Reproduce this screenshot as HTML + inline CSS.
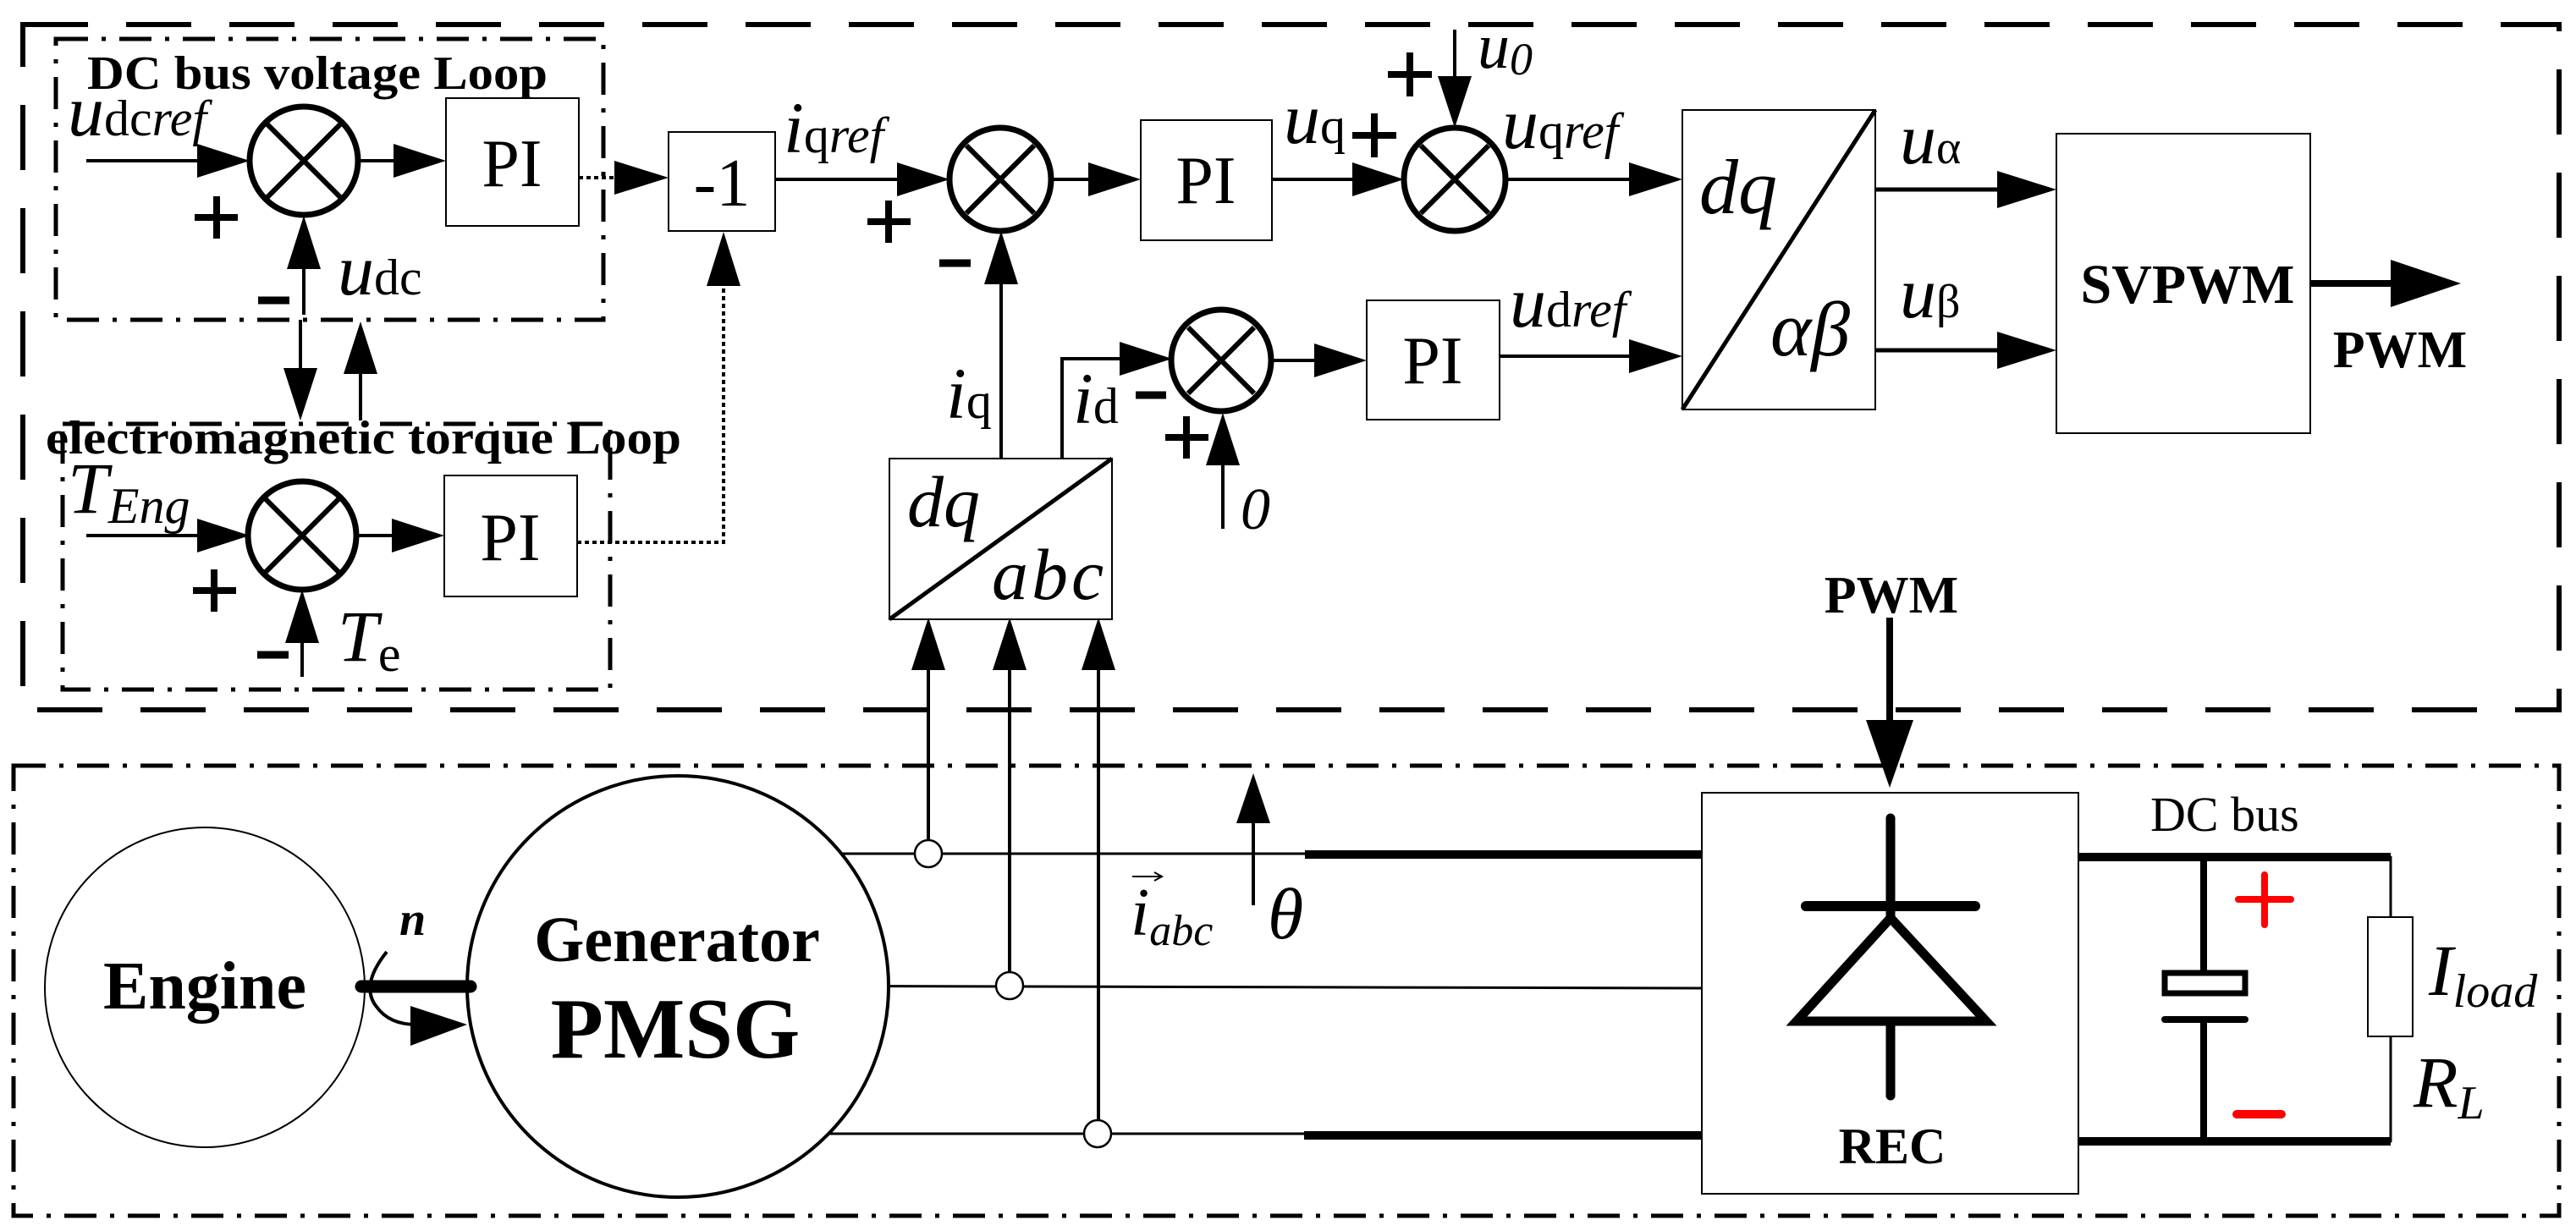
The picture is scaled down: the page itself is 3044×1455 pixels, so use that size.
<!DOCTYPE html>
<html><head><meta charset="utf-8"><style>html,body{margin:0;padding:0;background:#fff}svg{display:block}</style></head><body>
<svg width="3044" height="1455" viewBox="0 0 3044 1455" xmlns="http://www.w3.org/2000/svg" font-family="'Liberation Serif', serif">
<rect width="3044" height="1455" fill="#fff"/>
<g fill="none" stroke="#000">
<rect x="27" y="29" width="2997" height="810" stroke-width="6" stroke-dasharray="77 45"/>
<rect x="66" y="46" width="647" height="332" stroke-width="5" stroke-dasharray="38 16 5 16"/>
<rect x="74" y="501" width="647" height="314" stroke-width="5" stroke-dasharray="38 16 5 16"/>
<rect x="16" y="905" width="3008" height="532" stroke-width="5" stroke-dasharray="38 16 5 16"/>
</g>
<g stroke="#000" fill="none" stroke-width="4">
<line x1="102" y1="190" x2="240" y2="190"/>
<ellipse cx="359" cy="190" rx="64" ry="64" stroke-width="7"/>
<path d="M316 147L402 233M402 147L316 233" stroke-width="6"/>
<line x1="424" y1="190" x2="470" y2="190"/>
<rect x="527" y="116" width="157" height="151" stroke-width="2"/>
<line x1="359" y1="372" x2="359" y2="300"/>
<path d="M230 257H281M256 232V282" stroke-width="8"/>
<path d="M305 355H342" stroke-width="9"/>
<line x1="684" y1="210" x2="730" y2="210" stroke-dasharray="5 4"/>
<rect x="790" y="156" width="126" height="117" stroke-width="2"/>
<line x1="355" y1="378" x2="355" y2="440"/>
<line x1="426" y1="497" x2="426" y2="435"/>
<line x1="102" y1="633" x2="240" y2="633"/>
<ellipse cx="357" cy="633" rx="64" ry="64" stroke-width="7"/>
<path d="M314 590L400 676M400 590L314 676" stroke-width="6"/>
<line x1="421" y1="633" x2="470" y2="633"/>
<rect x="525" y="562" width="157" height="143" stroke-width="2"/>
<line x1="357" y1="800" x2="357" y2="750"/>
<path d="M228 698H279M253 673V723" stroke-width="8"/>
<path d="M304 774H341" stroke-width="9"/>
<path d="M682 641H855V330" stroke-dasharray="5 4"/>
<line x1="916" y1="212" x2="1070" y2="212"/>
<ellipse cx="1182" cy="212" rx="60" ry="61" stroke-width="7"/>
<path d="M1142 172L1222 252M1222 172L1142 252" stroke-width="6"/>
<path d="M1025 262H1076M1050 237V287" stroke-width="8"/>
<path d="M1110 311H1147" stroke-width="9"/>
<line x1="1242" y1="212" x2="1290" y2="212"/>
<rect x="1348" y="142" width="155" height="142" stroke-width="2"/>
<line x1="1503" y1="212" x2="1610" y2="212"/>
<path d="M1598 160H1650M1624 134V186" stroke-width="8"/>
<ellipse cx="1719" cy="212" rx="60" ry="61" stroke-width="7"/>
<path d="M1679 172L1759 252M1759 172L1679 252" stroke-width="6"/>
<line x1="1719" y1="35" x2="1719" y2="100"/>
<path d="M1640 88H1692M1666 62V114" stroke-width="8"/>
<line x1="1779" y1="212" x2="1930" y2="212"/>
<rect x="1988" y="130" width="228" height="354" stroke-width="2"/>
<line x1="1988" y1="484" x2="2216" y2="130" stroke-width="5"/>
<line x1="1183" y1="542" x2="1183" y2="330"/>
<path d="M1255 542V424H1330"/>
<ellipse cx="1443" cy="426" rx="59" ry="60" stroke-width="7"/>
<path d="M1404 387L1482 465M1482 387L1404 465" stroke-width="6"/>
<path d="M1342 467H1378" stroke-width="9"/>
<path d="M1377 517H1428M1402 492V542" stroke-width="8"/>
<line x1="1445" y1="625" x2="1445" y2="540"/>
<line x1="1504" y1="426" x2="1560" y2="426"/>
<rect x="1615" y="355" width="157" height="141" stroke-width="2"/>
<line x1="1772" y1="421" x2="1930" y2="421"/>
<rect x="1051" y="542" width="263" height="190" stroke-width="2"/>
<line x1="1051" y1="732" x2="1314" y2="542" stroke-width="5"/>
<line x1="1097" y1="790" x2="1097" y2="993"/>
<line x1="1193" y1="790" x2="1193" y2="1149"/>
<line x1="1298" y1="790" x2="1298" y2="1324"/>
<line x1="2216" y1="224" x2="2370" y2="224" stroke-width="5"/>
<line x1="2216" y1="414" x2="2370" y2="414" stroke-width="5"/>
<rect x="2430" y="158" width="300" height="354" stroke-width="2"/>
<line x1="2730" y1="335" x2="2830" y2="335" stroke-width="8"/>
<line x1="2233" y1="730" x2="2233" y2="860" stroke-width="8"/>
<line x1="801" y1="1009" x2="1542" y2="1009" stroke-width="3"/>
<line x1="1542" y1="1010" x2="2011" y2="1010" stroke-width="10"/>
<line x1="801" y1="1165" x2="2011" y2="1168" stroke-width="3"/>
<line x1="801" y1="1340" x2="1541" y2="1340" stroke-width="3"/>
<line x1="1541" y1="1342" x2="2011" y2="1342" stroke-width="10"/>
<line x1="1481" y1="1070" x2="1481" y2="960"/>
</g>
<g fill="#000">
<polygon points="233,170 295,190 233,210"/>
<polygon points="465,170 527,190 465,210"/>
<polygon points="339,318 359,255 379,318"/>
<polygon points="726,190 790,210 726,230"/>
<polygon points="335,435 355,497 375,435"/>
<polygon points="406,442 426,380 446,442"/>
<polygon points="233,613 295,633 233,653"/>
<polygon points="463,613 525,633 463,653"/>
<polygon points="337,760 357,697 377,760"/>
<polygon points="835,338 855,274 875,338"/>
<polygon points="1060,192 1122,212 1060,232"/>
<polygon points="1286,192 1348,212 1286,232"/>
<polygon points="1598,192 1659,212 1598,232"/>
<polygon points="1699,90 1719,151 1739,90"/>
<polygon points="1925,192 1988,212 1925,232"/>
<polygon points="1163,336 1183,273 1203,336"/>
<polygon points="1323,404 1385,424 1323,444"/>
<polygon points="1425,550 1445,488 1465,550"/>
<polygon points="1553,406 1615,426 1553,446"/>
<polygon points="1925,401 1988,421 1925,441"/>
<polygon points="1077,792 1097,730 1117,792"/>
<polygon points="1173,792 1193,730 1213,792"/>
<polygon points="1278,792 1298,730 1318,792"/>
<polygon points="2360,202 2430,224 2360,246"/>
<polygon points="2360,392 2430,414 2360,436"/>
<polygon points="2825,307 2908,335 2825,363"/>
<polygon points="2205,851 2233,931 2261,851"/>
<polygon points="1461,973 1481,914 1501,973"/>
<polygon points="485,1189 552,1211 485,1236"/>
</g>
<circle cx="242" cy="1167" r="189" fill="#fff" stroke="#000" stroke-width="2"/>
<circle cx="801" cy="1166" r="249" fill="#fff" stroke="#000" stroke-width="4"/>
<line x1="427" y1="1166" x2="556" y2="1166" stroke="#000" stroke-width="15" stroke-linecap="round"/>
<path d="M457 1125 Q425 1165 445 1190 Q460 1211 492 1211" fill="none" stroke="#000" stroke-width="4"/>
<g fill="#fff" stroke="#000" stroke-width="2.5">
<circle cx="1097" cy="1009" r="16"/><circle cx="1193" cy="1165" r="16"/><circle cx="1297" cy="1340" r="16"/>
</g>
<rect x="2011" y="937" width="445" height="474" fill="none" stroke="#000" stroke-width="2"/>
<g stroke="#000" stroke-linecap="round" fill="none">
<line x1="2234" y1="967" x2="2234" y2="1295" stroke-width="11"/>
<line x1="2134" y1="1071" x2="2334" y2="1071" stroke-width="12"/>
<polygon points="2234,1085 2347,1207 2123,1207" stroke-width="11" fill="#fff" stroke-linejoin="miter"/>
<line x1="2234" y1="1212" x2="2234" y2="1295" stroke-width="11"/>
<line x1="2456" y1="1013" x2="2825" y2="1013" stroke-width="10" stroke-linecap="butt"/>
<line x1="2456" y1="1349" x2="2825" y2="1349" stroke-width="10" stroke-linecap="butt"/>
<line x1="2604" y1="1013" x2="2604" y2="1147" stroke-width="8"/>
<rect x="2558" y="1150" width="95" height="24" stroke-width="7"/>
<line x1="2558" y1="1205" x2="2653" y2="1205" stroke-width="8"/>
<line x1="2604" y1="1205" x2="2604" y2="1349" stroke-width="8"/>
<line x1="2825" y1="1013" x2="2825" y2="1349" stroke-width="3"/>
<path d="M2645 1063H2707M2676 1034V1093" stroke="#f00" stroke-width="8"/>
<path d="M2643 1317H2696" stroke="#f00" stroke-width="10"/>
</g>
<rect x="2798" y="1084" width="53" height="141" fill="#fff" stroke="#000" stroke-width="2"/>
<g fill="#000">
<text x="103" y="105" font-size="56" font-weight="bold" textLength="544" lengthAdjust="spacingAndGlyphs">DC bus voltage Loop</text>
<text x="54" y="536" font-size="56" font-weight="bold" textLength="751" lengthAdjust="spacingAndGlyphs">electromagnetic torque Loop</text>
<text x="80" y="160" font-size="86" font-style="italic">u<tspan font-size="60" font-style="normal">dc</tspan><tspan font-size="60">ref</tspan></text>
<text x="399" y="348" font-size="86" font-style="italic">u<tspan font-size="60" font-style="normal">dc</tspan></text>
<text x="80" y="606" font-size="86" font-style="italic">T<tspan font-size="60" dy="12">Eng</tspan></text>
<text x="399" y="781" font-size="86" font-style="italic">T<tspan font-size="60" font-style="normal" dy="12">e</tspan></text>
<text x="605" y="220" font-size="80" text-anchor="middle">PI</text>
<text x="603" y="662" font-size="80" text-anchor="middle">PI</text>
<text x="1425" y="240" font-size="80" text-anchor="middle">PI</text>
<text x="1693" y="453" font-size="80" text-anchor="middle">PI</text>
<text x="853" y="243" font-size="80" text-anchor="middle">-1</text>
<text x="926" y="180" font-size="86" font-style="italic">i<tspan font-size="60" font-style="normal">q</tspan><tspan font-size="60">ref</tspan></text>
<text x="1517" y="169" font-size="86" font-style="italic">u<tspan font-size="60" font-style="normal">q</tspan></text>
<text x="1746" y="80" font-size="76" font-style="italic">u<tspan font-size="54" dy="8">0</tspan></text>
<text x="1775" y="175" font-size="86" font-style="italic">u<tspan font-size="60" font-style="normal">q</tspan><tspan font-size="60">ref</tspan></text>
<text x="1784" y="386" font-size="86" font-style="italic">u<tspan font-size="60" font-style="normal">d</tspan><tspan font-size="60">ref</tspan></text>
<text x="1118" y="494" font-size="86" font-style="italic">i<tspan font-size="60" font-style="normal">q</tspan></text>
<text x="1268" y="500" font-size="86" font-style="italic">i<tspan font-size="60" font-style="normal">d</tspan></text>
<text x="1466" y="625" font-size="70" font-style="italic">0</text>
<text x="2008" y="252" font-size="92" font-style="italic">dq</text>
<text x="2092" y="420" font-size="92" font-style="italic">αβ</text>
<text x="1072" y="622" font-size="86" font-style="italic">dq</text>
<text x="1172" y="708" font-size="86" font-style="italic" letter-spacing="4">abc</text>
<text x="2245" y="193" font-size="86" font-style="italic">u<tspan font-size="56" font-style="normal">α</tspan></text>
<text x="2245" y="375" font-size="86" font-style="italic">u<tspan font-size="56" font-style="normal">β</tspan></text>
<text x="2585" y="358" font-size="66" font-weight="bold" text-anchor="middle">SVPWM</text>
<text x="2836" y="434" font-size="62" font-weight="bold" text-anchor="middle">PWM</text>
<text x="2235" y="724" font-size="62" font-weight="bold" text-anchor="middle">PWM</text>
<text x="242" y="1192" font-size="80" font-weight="bold" text-anchor="middle">Engine</text>
<text x="800" y="1136" font-size="76" font-weight="bold" text-anchor="middle">Generator</text>
<text x="798" y="1250" font-size="102" font-weight="bold" text-anchor="middle">PMSG</text>
<text x="472" y="1105" font-size="56" font-weight="bold" font-style="italic">n</text>
<text x="1336" y="1105" font-size="80" font-style="italic">i<tspan font-size="52" dy="12">abc</tspan></text>
<path d="M1338 1036H1372M1364 1031L1373 1036L1364 1041" fill="none" stroke="#000" stroke-width="2"/>
<text x="1498" y="1109" font-size="86" font-style="italic">θ</text>
<text x="2236" y="1375" font-size="60" font-weight="bold" text-anchor="middle">REC</text>
<text x="2541" y="982" font-size="58">DC bus</text>
<text x="2870" y="1176" font-size="86" font-style="italic">I<tspan font-size="56" dy="14">load</tspan></text>
<text x="2852" y="1308" font-size="86" font-style="italic">R<tspan font-size="56" dy="14">L</tspan></text>
</g>
</svg>
</body></html>
